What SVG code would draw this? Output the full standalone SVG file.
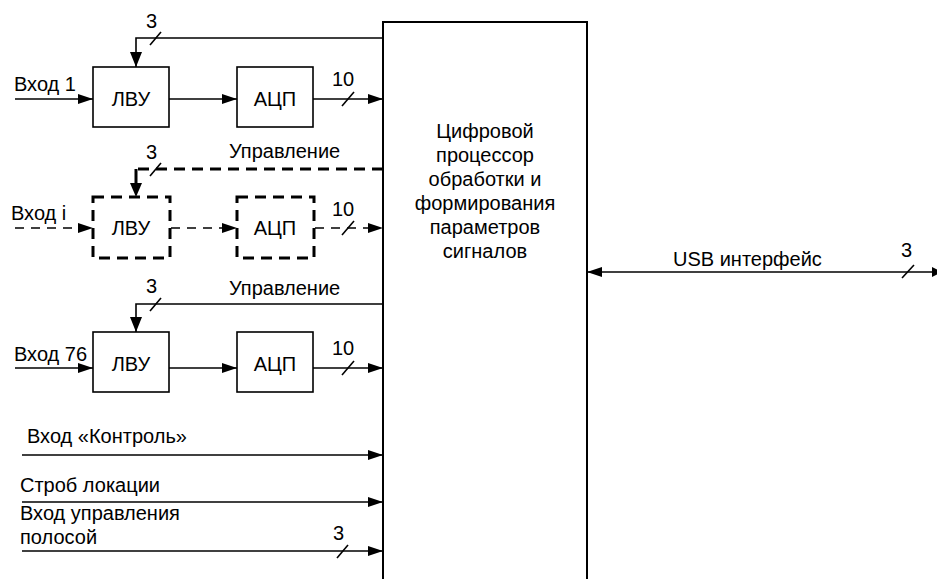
<svg xmlns="http://www.w3.org/2000/svg" width="937" height="579" viewBox="0 0 937 579">
<defs>
<style>
text{font-family:"Liberation Sans",Arial,sans-serif;font-size:20px;fill:#000}
.mid{text-anchor:middle}
.box{fill:#fff;stroke:#000;stroke-width:1.6}
.dbox{fill:#fff;stroke:#000;stroke-width:3;stroke-dasharray:11 7}
.ln{fill:none;stroke:#000;stroke-width:1.6}
.dl{fill:none;stroke:#000;stroke-width:1.6;stroke-dasharray:9 7}
.dlt{fill:none;stroke:#000;stroke-width:3;stroke-dasharray:11 7}
</style>
<marker id="arr" viewBox="0 0 15 10" refX="15" refY="5" markerWidth="15" markerHeight="10" markerUnits="userSpaceOnUse" orient="auto">
<path d="M0,0 L15,5 L0,10 Z" fill="#000"/>
</marker>
<marker id="arrL" viewBox="0 0 15 12" refX="15" refY="6" markerWidth="15" markerHeight="12" markerUnits="userSpaceOnUse" orient="auto">
<path d="M0,0 L15,6 L0,12 Z" fill="#000"/>
</marker>
<marker id="arrS" viewBox="0 0 15 10" refX="0" refY="5" markerWidth="15" markerHeight="10" markerUnits="userSpaceOnUse" orient="auto">
<path d="M15,0 L0,5 L15,10 Z" fill="#000"/>
</marker>
</defs>
<rect width="937" height="579" fill="#fff"/>

<g id="connectors">
<path class="ln" d="M383,38 H136 V67" marker-end="url(#arrL)"/>
<path class="ln" d="M150,45 L161,32"/>
<path class="ln" d="M15,99 H93" marker-end="url(#arr)"/>
<path class="ln" d="M169,99 H237" marker-end="url(#arr)"/>
<path class="ln" d="M313,99 H383" marker-end="url(#arr)"/>
<path class="ln" d="M342,106 L354,92"/>
<path class="dlt" d="M383,169 H136"/>
<path fill="none" stroke="#000" stroke-width="3" d="M136,169 V185"/>
<path d="M130,183 L142,183 L136,197 Z" fill="#000"/>
<path class="ln" d="M150,176 L161,163"/>
<path class="dl" d="M15,228 H80"/>
<path d="M78,223 L93,228 L78,233 Z" fill="#000"/>
<path class="dl" d="M171,228 H224"/>
<path d="M222,223 L237,228 L222,233 Z" fill="#000"/>
<path class="dl" d="M315,228 H370"/>
<path d="M368,223 L383,228 L368,233 Z" fill="#000"/>
<path class="ln" d="M342,235 L354,221"/>
<path class="ln" d="M383,304 H136 V332" marker-end="url(#arrL)"/>
<path class="ln" d="M150,311 L161,298"/>
<path class="ln" d="M15,368 H93" marker-end="url(#arr)"/>
<path class="ln" d="M169,368 H237" marker-end="url(#arr)"/>
<path class="ln" d="M313,368 H383" marker-end="url(#arr)"/>
<path class="ln" d="M342,375 L354,361"/>
<path class="ln" d="M22,455 H383" marker-end="url(#arr)"/>
<path class="ln" d="M22,502 H383" marker-end="url(#arr)"/>
<path class="ln" d="M22,551 H383" marker-end="url(#arr)"/>
<path class="ln" d="M337,558 L348,545"/>
<path class="ln" d="M587,272 H937" marker-start="url(#arrS)"/>
<path d="M932,267 L937,269.5 L937,274.5 L932,277 Z" fill="#000"/>
<path class="ln" d="M902,278 L914,265"/>
</g>

<g id="labels">
<text x="14" y="91">Вход 1</text>
<text x="146" y="28">3</text>
<text x="332" y="86">10</text>
<text x="146" y="159">3</text>
<text x="229" y="158">Управление</text>
<text x="11" y="220">Вход i</text>
<text x="332" y="216">10</text>
<text x="146" y="293">3</text>
<text x="229" y="295">Управление</text>
<text x="14" y="361">Вход 76</text>
<text x="332" y="355">10</text>
<text x="27" y="443">Вход «Контроль»</text>
<text x="20" y="492">Строб локации</text>
<text x="20" y="520">Вход управления</text>
<text x="20" y="544">полосой</text>
<text x="333" y="540">3</text>
<text x="673" y="266">USB интерфейс</text>
<text x="901" y="257">3</text>
</g>

<g id="lvu1"><rect class="box" x="93" y="67" width="76" height="60"/><text class="mid" x="131" y="106">ЛВУ</text></g>
<g id="adc1"><rect class="box" x="237" y="67" width="76" height="60"/><text class="mid" x="275" y="106">АЦП</text></g>
<g id="lvui"><rect class="dbox" x="93" y="197" width="77" height="61"/><text class="mid" x="131" y="235">ЛВУ</text></g>
<g id="adci"><rect class="dbox" x="237" y="197" width="77" height="61"/><text class="mid" x="275" y="235">АЦП</text></g>
<g id="lvu76"><rect class="box" x="93" y="332" width="76" height="60"/><text class="mid" x="131" y="371">ЛВУ</text></g>
<g id="adc76"><rect class="box" x="237" y="332" width="76" height="60"/><text class="mid" x="275" y="371">АЦП</text></g>

<g id="dsp">
<path fill="#fff" stroke="#000" stroke-width="2" d="M383,582 V22 H587 V582"/>
<text class="mid" x="485" y="138">Цифровой</text>
<text class="mid" x="485" y="162">процессор</text>
<text class="mid" x="485" y="186">обработки и</text>
<text class="mid" x="485" y="210">формирования</text>
<text class="mid" x="485" y="234">параметров</text>
<text class="mid" x="485" y="258">сигналов</text>
</g>
</svg>
